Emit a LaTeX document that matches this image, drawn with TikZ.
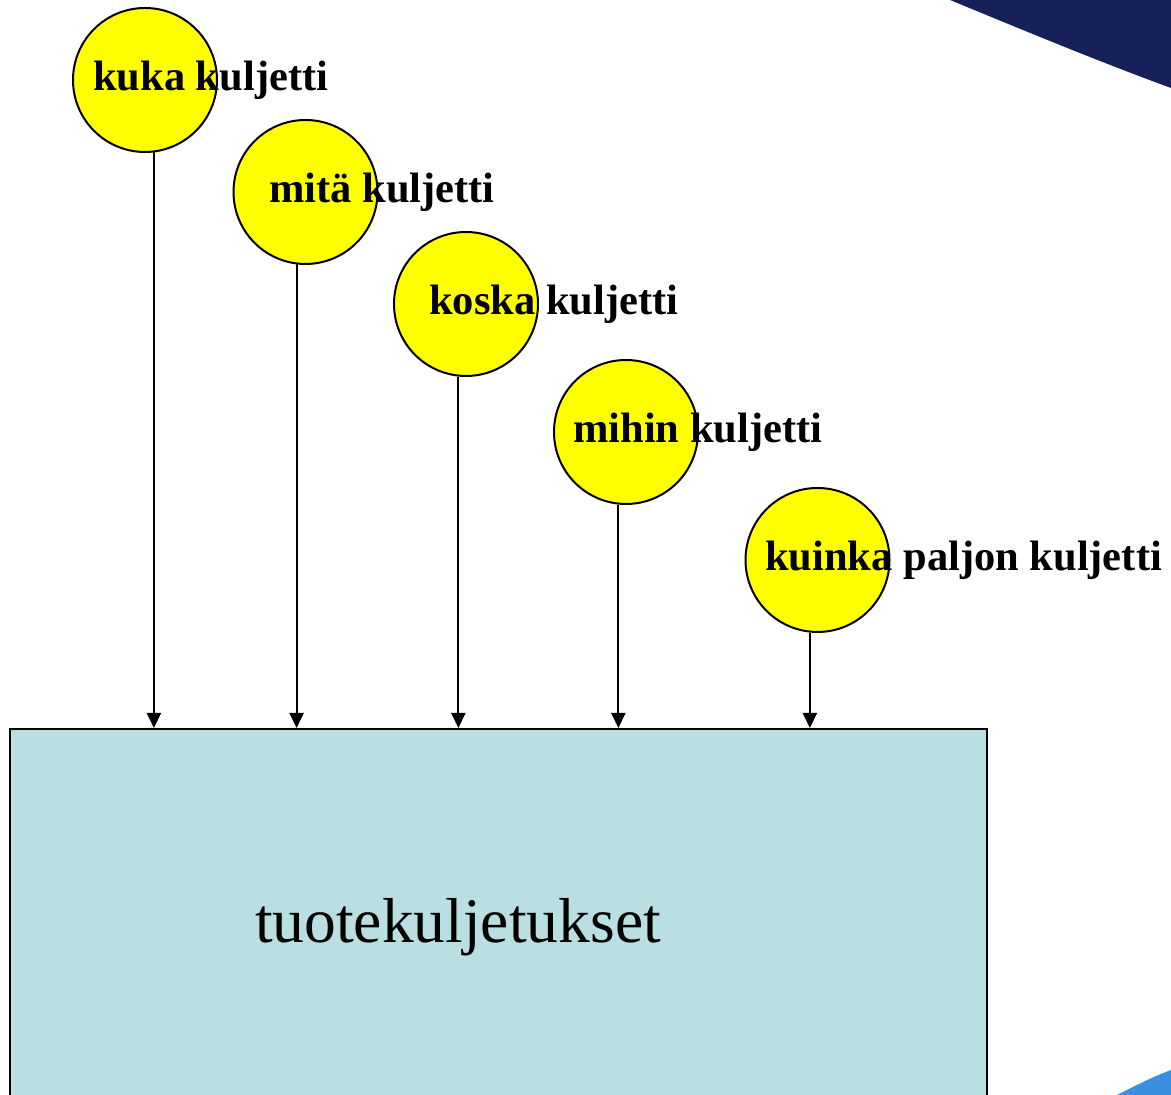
\documentclass[tikz,border=0pt]{standalone}
\usepackage{fontspec}
\setmainfont{Liberation Serif}
\usetikzlibrary{arrows.meta}
\definecolor{navy}{HTML}{16215A}
\definecolor{skyblue}{HTML}{3A8FE0}
\definecolor{boxfill}{HTML}{B9DFE3}
\definecolor{bubblefill}{RGB}{255,255,0}
\tikzset{
  bubble/.style={circle, draw=black, line width=2pt, fill=bubblefill, minimum size=144pt, inner sep=0pt},
  lbl/.style={anchor=base west, inner sep=0pt, font=\fontsize{42.5}{48}\selectfont\bfseries},
  arr/.style={line width=2.2pt, -{Triangle[length=15pt,width=14pt]}},
}
\begin{document}
\begin{tikzpicture}[x=1pt,y=1pt]
\useasboundingbox (0,0) rectangle (1171,1095);
% background decorations
\fill[navy] (950,1095) .. controls (1030,1062) and (1100,1033) .. (1171,1007) -- (1171,1095) -- cycle;
\fill[skyblue] (1117,0) .. controls (1135,9) and (1152,18) .. (1171,25) -- (1171,0) -- cycle;
% box
\node[draw=black, line width=2.4pt, fill=boxfill, anchor=north west, minimum width=977pt, minimum height=380pt, inner sep=0pt] (box) at (9,367) {};
\node[anchor=base, inner sep=0pt, font=\fontsize{63.5}{70}\selectfont] (boxtxt) at (458,152) {tuotekuljetukset};
% bubbles
\node[bubble] (c1) at (145,1015) {};
\node[bubble] (c2) at (305.5,903) {};
\node[bubble] (c3) at (466,791) {};
\node[bubble] (c4) at (626,663) {};
\node[bubble] (c5) at (817.5,535) {};
% labels
\node[lbl] (l1) at (93,1004) {kuka kuljetti};
\node[lbl] (l2) at (269,892) {mitä kuljetti};
\node[lbl] (l3) at (429,780) {koska kuljetti};
\node[lbl] (l4) at (573,652) {mihin kuljetti};
\node[lbl] (l5) at (765,524) {kuinka paljon kuljetti};
% connectors
\draw[arr] (c1.-83.6) -- (c1.-83.6 |- box.north);
\draw[arr] (c2.-97.4) -- (c2.-97.4 |- box.north);
\draw[arr] (c3.-96.4) -- (c3.-96.4 |- box.north);
\draw[arr] (c4.-96.4) -- (c4.-96.4 |- box.north);
\draw[arr] (c5.-96) -- (c5.-96 |- box.north);
\end{tikzpicture}
\end{document}
